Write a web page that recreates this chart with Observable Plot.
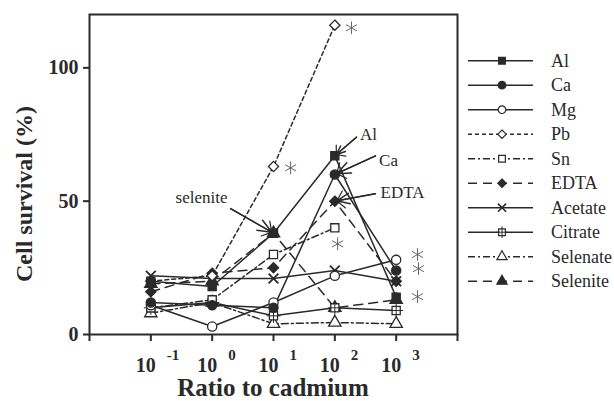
<!DOCTYPE html>
<html><head><meta charset="utf-8">
<script src="https://cdn.jsdelivr.net/npm/d3@7"></script>
<script src="https://cdn.jsdelivr.net/npm/@observablehq/plot@0.6"></script>
<style>
html,body{margin:0;padding:0;background:#fff;}
#chart svg{display:block;}
</style></head><body><div id="chart"></div>
<script>
// ---- data ----
const ratios = [0.1, 1, 10, 100, 1000];
const seriesNames = ["Al", "Ca", "Mg", "Pb", "Sn", "EDTA", "Acetate", "Citrate", "Selenate", "Selenite"];
const alSurvival       = [20, 18, 38, 67, 14];
const caSurvival       = [12, 11, 10, 60, 24];
const mgSurvival       = [11, 3, 12, 22, 28];
const pbSurvival       = [20, 22, 63, 116, null];
const snSurvival       = [10, 13, 30, 40, null];
const edtaSurvival     = [16, 23, 25, 50, 20];
const acetateSurvival  = [22, 21, 21, 24, 20];
const citrateSurvival  = [10, 12, 7, 10, 9];
const selenateSurvival = [8, 12, 4, 4.5, 4];
const seleniteSurvival = [19, 20, 38, 10, 13];
const xTickRatios = [0.01, 0.1, 1, 10, 100, 1000, 10000];
const xLabelRatios = [0.1, 1, 10, 100, 1000];
const xLabelExponents = ["-1", "0", "1", "2", "3"];
const yTicks = [0, 50, 100];
const asteriskRatios = [19, 187, 111, 2230, 2310, 2230];
const asteriskValues = [62.5, 115, 34, 30, 24.7, 14.2];
const annotationTexts = ["Al", "Ca", "EDTA", "selenite"];
const annotationPointRatios = [100, 100, 100, 10];
const annotationPointValues = [67, 60, 50, 38];
const annotationTailRatios = [226, 460, 460, 2.0];
const annotationTailValues = [74, 67, 52.8, 47.2];
const annotationLabelRatios = [354, 750, 1270, 0.67];
const annotationLabelValues = [75, 65.2, 53.2, 51.3];

// ---- styles ----
const valuesBySeries = [alSurvival, caSurvival, mgSurvival, pbSurvival, snSurvival, edtaSurvival,
  acetateSurvival, citrateSurvival, selenateSurvival, seleniteSurvival];
const ink = "#2a2a2a";
const serif = "'Liberation Serif', 'Times New Roman', serif";
const styles = {
  Al:       {dash: null,        symbol: "square",   fill: ink},
  Ca:       {dash: null,        symbol: "circle",   fill: ink},
  Mg:       {dash: null,        symbol: "circle",   fill: "white"},
  Pb:       {dash: "4,3",       symbol: "diamond2", fill: "white"},
  Sn:       {dash: "7,3,2,3",   symbol: "square",   fill: "white"},
  EDTA:     {dash: "9,6",       symbol: "diamond2", fill: ink},
  Acetate:  {dash: null,        symbol: "times",    fill: "none"},
  Citrate:  {dash: null,        symbol: "square",   fill: "white", plus: true},
  Selenate: {dash: "7,3,2,3",   symbol: "triangle", fill: "white"},
  Selenite: {dash: "9,6",       symbol: "triangle", fill: ink}
};

const rows = seriesNames.flatMap((name, i) =>
  ratios.map((r, j) => ({series: name, ratio: r, value: valuesBySeries[i][j]})))
  .filter(d => d.value != null);
const asterisks = asteriskRatios.map((r, i) => ({ratio: r, value: asteriskValues[i]}));
const annotations = annotationTexts.map((t, i) => ({
  text: t,
  x1: annotationTailRatios[i], y1: annotationTailValues[i],
  x2: annotationPointRatios[i], y2: annotationPointValues[i],
  lx: annotationLabelRatios[i], ly: annotationLabelValues[i]
}));

const lineMarks = seriesNames.slice().reverse().map(name =>
  Plot.line(rows.filter(d => d.series === name), {
    x: "ratio", y: "value", stroke: ink, strokeWidth: 1.5,
    strokeDasharray: styles[name].dash || undefined
  }));
const dotMarks = seriesNames.slice().reverse().flatMap(name => {
  const s = styles[name];
  const data = rows.filter(d => d.series === name);
  const m = [Plot.dot(data, {
    x: "ratio", y: "value", symbol: s.symbol, r: s.symbol === "times" ? 4.5 : 4.6,
    fill: s.fill, stroke: ink, strokeWidth: s.symbol === "times" ? 1.8 : 1.3
  })];
  if (s.plus) m.push(Plot.dot(data, {x: "ratio", y: "value", symbol: "plus", r: 4.6, stroke: ink, strokeWidth: 1}));
  return m;
});

const chart = Plot.plot({
  width: 614, height: 401,
  marginLeft: 89, marginRight: 157, marginTop: 14, marginBottom: 67,
  style: {background: "white", color: ink, fontFamily: serif},
  x: {type: "log", domain: [0.01, 10000], axis: null},
  y: {domain: [0, 120], axis: null},
  marks: [
    Plot.axisY({ticks: yTicks, tickSize: 6, tickPadding: 5, strokeWidth: 2, fontSize: 20, fontWeight: "bold", fontFamily: serif, label: null}),
    Plot.axisX({ticks: xTickRatios, tickSize: 7, strokeWidth: 2, tickFormat: () => "", label: null}),
    Plot.text(xLabelRatios, {x: d => d, y: 0, text: () => "10", dy: 37, dx: -5, lineAnchor: "bottom", textAnchor: "middle", fontSize: 20, fontWeight: "bold", fontFamily: serif, fill: ink}),
    Plot.text(xLabelRatios, {x: d => d, y: 0, text: (d, i) => xLabelExponents[i], dy: 25, dx: 16, lineAnchor: "bottom", textAnchor: "start", fontSize: 15, fontWeight: "bold", fontFamily: serif, fill: ink}),
    ...lineMarks,
    ...dotMarks,
    Plot.dot(asterisks, {x: "ratio", y: "value", symbol: "asterisk", r: 6, stroke: "#666", strokeWidth: 1}),
    Plot.arrow(annotations, {x1: "x1", y1: "y1", x2: "x2", y2: "y2", stroke: ink, strokeWidth: 1.5, headLength: 15, headAngle: 45, insetEnd: 2}),
    Plot.arrow(annotations, {x1: "x1", y1: "y1", x2: "x2", y2: "y2", stroke: ink, strokeWidth: 1.2, headLength: 14, headAngle: 100, insetEnd: 2}),
    Plot.text(annotations, {x: "lx", y: "ly", text: "text", textAnchor: "middle", fontSize: 17, fontFamily: serif, fill: ink}),
    Plot.frame({stroke: ink, strokeWidth: 2})
  ]
});
document.getElementById("chart").appendChild(chart);

// ---- titles and legend ----
const svg = d3.select(chart);
svg.append("text").attr("x", 273).attr("y", 396).attr("text-anchor", "middle")
  .attr("font-family", serif).attr("font-weight", "bold").attr("font-size", 25).attr("fill", ink)
  .text("Ratio to cadmium");
svg.append("text").attr("transform", "translate(32,194) rotate(-90)").attr("text-anchor", "middle")
  .attr("font-family", serif).attr("font-weight", "bold").attr("font-size", 24).attr("fill", ink)
  .text("Cell survival (%)");

const symbolTypes = {square: d3.symbolSquare, circle: d3.symbolCircle, diamond2: d3.symbolDiamond2,
  times: d3.symbolTimes, triangle: d3.symbolTriangle, plus: d3.symbolPlus};
const lg = svg.append("g");
seriesNames.forEach((name, i) => {
  const s = styles[name];
  const y = 60.7 + i * 24.5;
  const g = lg.append("g").attr("transform", `translate(0,${y})`);
  g.append("line").attr("x1", 468).attr("x2", 533).attr("y1", 0).attr("y2", 0)
    .attr("stroke", ink).attr("stroke-width", 1.5).attr("stroke-dasharray", s.dash);
  const size = Math.PI * 3.8 * 3.8;
  g.append("path").attr("transform", "translate(502,0)")
    .attr("d", d3.symbol(symbolTypes[s.symbol], size)())
    .attr("fill", s.fill).attr("stroke", ink).attr("stroke-width", s.symbol === "times" ? 1.6 : 1.2);
  if (s.plus) g.append("path").attr("transform", "translate(502,0)")
    .attr("d", d3.symbol(d3.symbolPlus, size)()).attr("fill", "none").attr("stroke", ink).attr("stroke-width", 1);
  g.append("text").attr("x", 551).attr("y", 6).attr("text-anchor", "start").attr("font-family", serif).attr("font-size", 18)
    .attr("fill", ink).text(name);
});
</script></body></html>
